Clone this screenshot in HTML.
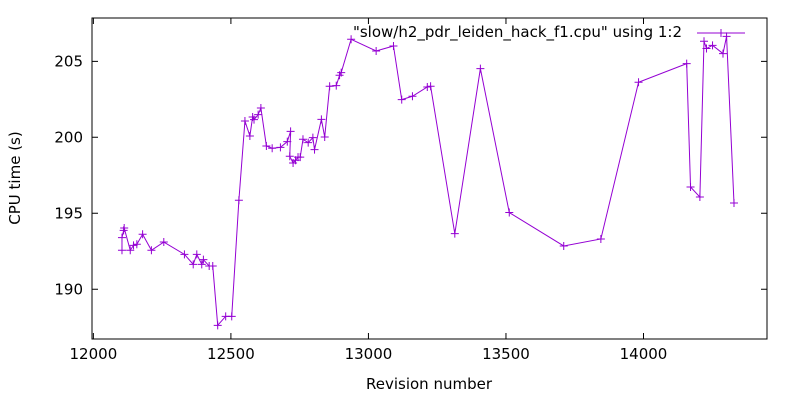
<!DOCTYPE html>
<html><head><meta charset="utf-8"><style>
html,body{margin:0;padding:0;background:#fff;}
svg text{font-family:"DejaVu Sans","Liberation Sans",sans-serif;font-size:15px;fill:#000;}
</style></head><body>
<svg id="chart" width="800" height="400" xmlns="http://www.w3.org/2000/svg">
<rect width="800" height="400" fill="#fff"/>
<g id="axes"></g>
<g id="series"></g>
<rect x="92" y="18" width="675" height="321" fill="none" stroke="#000" stroke-width="1"/>
<text transform="translate(20,178) rotate(-90)" text-anchor="middle">CPU time (s)</text>
<text x="429" y="389" text-anchor="middle">Revision number</text>
<g>
<text x="682" y="37" text-anchor="end">"slow/h2_pdr_leiden_hack_f1.cpu" using 1:2</text>
<line x1="697" y1="33" x2="745" y2="33" stroke="#9400d3" stroke-width="1"/>
<path d="M717,33h8M721,29v8" stroke="#9400d3" stroke-width="1"/>
</g>
</svg>
<script>
const revisions=[12104,12104,12110,12112,12134,12146,12158,12179,12211,12256,12331,12363,12376,12394,12400,12421,12434,12452,12481,12503,12529,12551,12569,12579,12584,12599,12609,12629,12650,12680,12705,12717,12714,12726,12735,12744,12752,12762,12781,12798,12804,12829,12841,12859,12883,12895,12901,12937,13028,13091,13121,13160,13214,13226,13314,13407,13512,13710,13845,13982,14157,14171,14205,14220,14229,14251,14289,14302,14329];
const cpuTimes=[192.57,193.40,193.88,194.03,192.57,192.89,192.96,193.62,192.57,193.11,192.30,191.64,192.30,191.64,191.95,191.53,191.53,187.63,188.22,188.22,195.86,201.07,200.09,201.34,201.16,201.49,201.93,199.43,199.28,199.34,199.72,200.39,198.75,198.31,198.49,198.70,198.70,199.87,199.65,199.98,199.19,201.18,200.02,203.36,203.40,204.08,204.26,206.45,205.68,206.01,202.48,202.70,203.31,203.36,193.66,204.52,195.05,192.85,193.31,203.62,204.85,196.73,196.07,206.32,205.84,206.05,205.51,206.64,195.68];
const xTicks=[12000,12500,13000,13500,14000];
const yTicks=[190,195,200,205];
const xDomain=[11995,14449], yDomain=[186.73,207.85];
const L=92,R=767,T=18,B=339;
const xs=v=>L+(v-xDomain[0])/(xDomain[1]-xDomain[0])*(R-L);
const ys=v=>B-(v-yDomain[0])/(yDomain[1]-yDomain[0])*(B-T);
const NS="http://www.w3.org/2000/svg";
const axes=document.getElementById('axes'), series=document.getElementById('series');
function mk(tag,attrs,parent){const e=document.createElementNS(NS,tag);for(const k in attrs)e.setAttribute(k,attrs[k]);parent.appendChild(e);return e;}
xTicks.forEach(t=>{const x=xs(t);
 const g=mk('g',{},axes);
 
 
 mk('path',{d:`M${x},${B}v-6M${x},${T}v6`,stroke:'#000','stroke-width':1},g);
 const tx=mk('text',{x:x,y:B+20,'text-anchor':'middle'},g);tx.textContent=t;
});
yTicks.forEach(t=>{const y=ys(t);
 const g=mk('g',{},axes);
 
 
 mk('path',{d:`M${L},${y}h6M${R},${y}h-6`,stroke:'#000','stroke-width':1},g);
 const tx=mk('text',{x:L-9,y:y+5,'text-anchor':'end'},g);tx.textContent=t;
});
const pts=revisions.map((r,i)=>[xs(r),ys(cpuTimes[i])]);
const line=mk('polyline',{points:pts.map(p=>p.join(',')).join(' '),fill:'none',stroke:'#9400d3','stroke-width':1},series);


pts.forEach(p=>{
 const m=mk('path',{d:`M${p[0]-4},${p[1]}h8M${p[0]},${p[1]-4}v8`,stroke:'#9400d3','stroke-width':1},series);
 
 
});
</script>
</body></html>
